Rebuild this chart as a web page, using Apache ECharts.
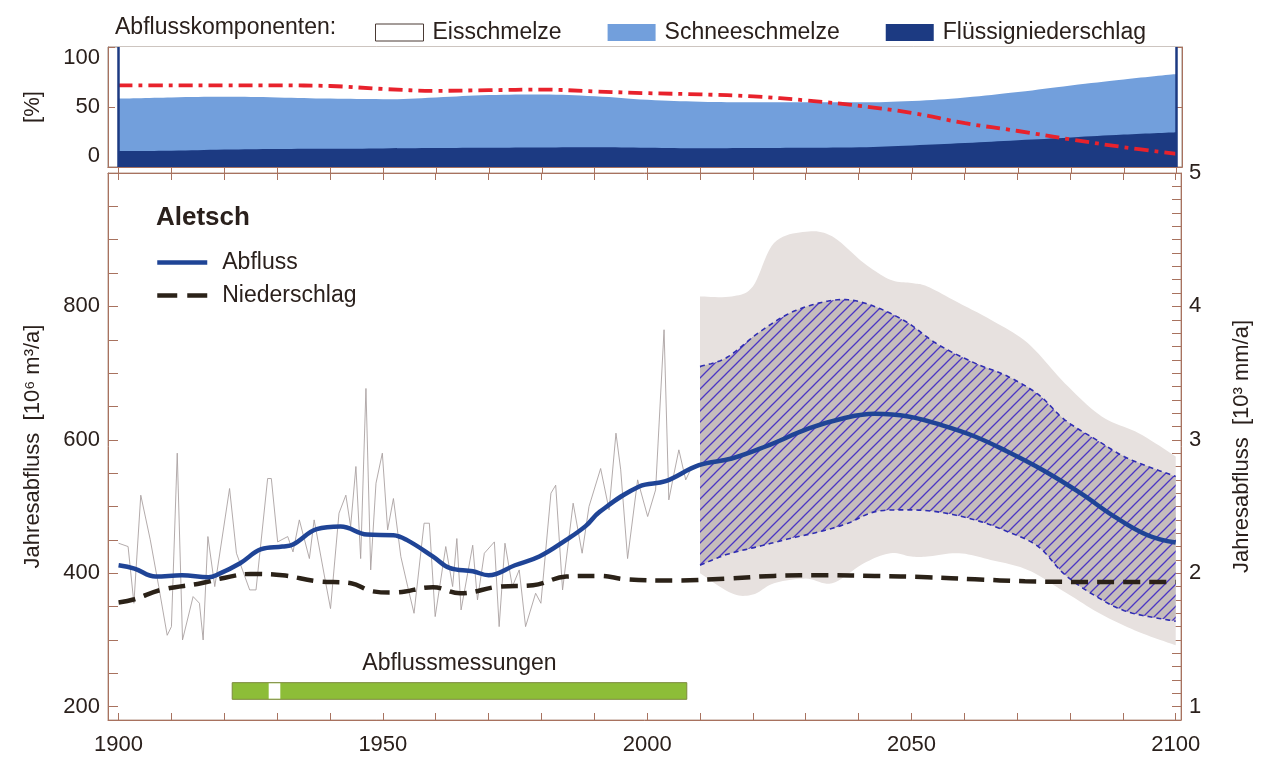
<!DOCTYPE html>
<html><head><meta charset="utf-8">
<script src="https://cdn.jsdelivr.net/npm/echarts@6.0.0/dist/echarts.min.js"></script>
<style>html,body{margin:0;padding:0;background:#fff}#c{width:1261px;height:763px}</style>
</head><body><div id="c"></div>
<script>
// ---------- DATA ----------
// top panel: runoff components (percent), every 10 years
const compYears = [1900,1910,1920,1930,1940,1950,1960,1970,1980,1990,2000,2010,2020,2030,2040,2050,2060,2070,2080,2090,2100];
const fluessig  = [13.3,13.5,14.5,15,15.2,15.5,15.8,16,16.2,16.4,16,15.6,15.8,16,16.4,18,20,22.3,24.6,27,29];
const schnee    = [43.7,44.5,44,43,41.8,41,42.2,44,44.3,42.6,40,38.8,38.2,38,37.5,37,38,40.2,43.4,46,48.5];
const eis       = [43,42,41.5,42,43,43.5,42,40,39.5,41,44,45.6,46,46,46.1,45,42,37.5,32,27,22.5];
const redLine   = [68,68,68,68,67.5,65,63.5,64,64.5,63,61.5,60.5,58.8,55.5,51,45,36.5,30,23,16.5,11];

// main panel: smoothed runoff (Abfluss)
const abflussYears = [1900,1903,1907,1912,1917,1919,1923,1927,1931,1933,1937.5,1942,1947,1952,1954.5,1959.5,1962.6,1967,1970,1975,1979.6,1984.7,1988.4,1991,1998.5,2003.5,2009.8,2016,2022.4,2030.6,2037,2043,2049.4,2055.7,2062,2068,2075,2082,2088.4,2094.7,2100];
const abflussValues = [412,407,395,397,394,399,415,436,440,443,466,470,458,457,450,425,408,403,397,412,425,450,471,492,530,538,562,572,590,617,632,639,635,622,605,583,554,520,485,457,446];

// smoothed precipitation (Niederschlag)
const niedYears  = [1900,1903,1908,1915.6,1919.4,1925,1931,1937.5,1944,1948,1952,1959.5,1964.6,1972,1978.4,1984.7,1991,1996,2005,2015,2024,2034,2043,2053,2062,2071.5,2085,2100];
const niedValues = [356,361,375,385,392,399,397,388,385,373,371,379,370,380,382,395,396,391,389,392,396,397,396,394,391,388,387,387];

// observed annual runoff (thin grey line)
const obsYears  = [1900,1901.8,1902.9,1904.2,1906,1907.6,1909.2,1910,1911.1,1912.1,1914.1,1915.3,1916,1916.9,1918.2,1921,1922.3,1924.8,1926,1928.2,1928.9,1930.1,1932,1933,1934.2,1936.1,1937,1939.2,1940.1,1941.7,1943,1943.9,1944.9,1945.8,1946.8,1947.7,1948.7,1949.9,1950.9,1952,1953.4,1954.7,1955.9,1957.8,1958.8,1959.9,1961.9,1963.2,1964,1964.8,1967,1967.9,1969.2,1971.1,1972,1973.1,1974.5,1975.8,1977,1978.9,1979.9,1981.8,1982.7,1984,1986,1987.7,1989,1991.2,1992.8,1994.1,1995,1996.3,1998.2,2000.1,2001.6,2003.2,2004.1,2005.1,2006,2007.3,2008.5];
const obsValues = [445,440,355,517,450,380,307,320,580,300,365,355,300,455,380,527,430,375,375,542,542,447,455,432,480,422,480,385,347,490,517,470,560,422,677,405,535,580,465,512,425,380,340,475,475,335,440,380,452,345,442,360,430,447,320,445,380,405,320,370,355,520,532,375,505,430,500,557,495,610,555,422,540,485,525,765,510,550,585,540,560];

// scenario range (hatched band)
const bandYears = [2010,2015,2021,2027,2033,2038,2043,2049,2055,2062,2068,2074,2079,2085,2091,2100];
const bandUpper = [710,723,760,790,806,810,800,777,743,715,696,668,630,600,572,545];
const bandLower = [412,428,440,452,463,475,492,495,492,480,463,440,398,365,342,328];

// envelope of annual scenario values (grey)
const envYears = [2010,2016,2020,2024,2030,2035,2041,2046,2050,2053,2059,2065,2072,2079,2086,2093,2100];
const envMax   = [815,815,830,895,912,905,865,840,835,830,805,780,745,685,635,610,575];
const envMin   = [400,370,368,385,392,385,415,430,425,425,430,420,405,372,338,312,292];

// measurement period
const messPeriod = [1921.5, 2007.5];
const messGap = [1928.4, 1930.6];

// tick labels
const xLabels = [1900,1950,2000,2050,2100];
const leftLabels = [200,400,600,800];
const rightLabels = [1,2,3,4,5];

// ---------- BUILD ----------
const zip = (a,b) => a.map((x,i)=>[x,b[i]]);
const schneeTop = fluessig.map((v,i)=>v+schnee[i]);
const eisTop = schneeTop.map((v,i)=>v+eis[i]);
const decades = []; for (let y=1900;y<=2100;y+=10) decades.push(y);
const leftTicks = []; for (let v=200; v<=1000; v+=50) leftTicks.push(v);
const rightTicks = []; for (let i=9;i<=50;i++) rightTicks.push(+(i/10).toFixed(1));

const FONT = "'Liberation Sans', Arial, sans-serif";
const TXT = '#2a201c';
const AX = '#a8725f';
const NAVY = '#1c3a82';
const LBLUE = '#729fdc';

function hatch() {
  const s = 11;
  const c = document.createElement('canvas');
  c.width = s; c.height = s;
  const g = c.getContext('2d');
  g.fillStyle = 'rgb(197,189,188)';
  g.fillRect(0,0,s,s);
  g.strokeStyle = '#4b36c4';
  g.lineWidth = 1.3;
  g.beginPath();
  g.moveTo(0, s); g.lineTo(s, 0);
  g.moveTo(-2, 2); g.lineTo(2, -2);
  g.moveTo(s-2, s+2); g.lineTo(s+2, s-2);
  g.stroke();
  return c;
}
const HATCH = {image: hatch(), repeat: 'repeat'};

// Catmull-Rom sampling of screen points (rendering only)
function smoothPts(P, n) {
  const out = [];
  for (let i=0;i<P.length-1;i++){
    const p0=P[i-1]||P[i], p1=P[i], p2=P[i+1], p3=P[i+2]||P[i+1];
    for (let s=0;s<n;s++){
      const t=s/n, t2=t*t, t3=t2*t;
      const f = k => 0.5*((2*p1[k])+(-p0[k]+p2[k])*t+(2*p0[k]-5*p1[k]+4*p2[k]-p3[k])*t2+(-p0[k]+3*p1[k]-3*p2[k]+p3[k])*t3);
      out.push([f(0), f(1)]);
    }
  }
  out.push(P[P.length-1]);
  return out;
}

function bandSeries(name, years, lo, hi, fill, stroke) {
  return {
    type:'custom', name, xAxisIndex:2, yAxisIndex:2, silent:true, clip:true,
    data:[[years[0], lo[0]]],
    renderItem(params, api) {
      const up = smoothPts(years.map((y,i)=>api.coord([y, hi[i]])), 10);
      const dn = smoothPts(years.map((y,i)=>api.coord([y, lo[i]])), 10);
      const poly = up.concat(dn.slice().reverse());
      const children = [{type:'polygon', shape:{points:poly}, style:{fill:fill, stroke:null}}];
      if (stroke) {
        children.push({type:'polyline', shape:{points:up}, style:{fill:null, stroke:stroke, lineWidth:1.6, lineDash:[5,4]}});
        children.push({type:'polyline', shape:{points:dn}, style:{fill:null, stroke:stroke, lineWidth:1.6, lineDash:[5,4]}});
      }
      return {type:'group', children};
    }
  };
}

const chart = echarts.init(document.getElementById('c'), null, {renderer:'canvas'});
const xBase = {type:'value', min:1898, max:2101, splitLine:{show:false},
  axisLine:{lineStyle:{color:AX}}, axisTick:{inside:true, length:7, customValues:decades, lineStyle:{color:AX}},
  axisLabel:{show:false}};

const option = {
  animation:false,
  backgroundColor:'#fff',
  textStyle:{fontFamily:FONT, color:TXT},
  title:[
    {text:'Abflusskomponenten:', left:110, top:11, textStyle:{fontFamily:FONT, fontSize:23, fontWeight:'normal', color:TXT}},
    {text:'Aletsch', left:151, top:200, textStyle:{fontFamily:FONT, fontSize:26, fontWeight:'bold', color:TXT}}
  ],
  legend:[
    {left:370, top:16, itemWidth:48, itemHeight:17, itemGap:46, icon:'rect',
     textStyle:{fontFamily:FONT, fontSize:23, color:TXT, padding:[0,0,0,4]},
     data:[
       {name:'Eisschmelze', itemStyle:{color:'#ffffff', borderColor:'#4a3a34', borderWidth:1}},
       {name:'Schneeschmelze', itemStyle:{color:LBLUE, borderColor:LBLUE}},
       {name:'Flüssigniederschlag', itemStyle:{color:NAVY, borderColor:NAVY}}
     ]},
    {left:150, top:246, orient:'vertical', itemWidth:50, itemHeight:14, itemGap:10,
     itemStyle:{opacity:0},
     textStyle:{fontFamily:FONT, fontSize:23, color:TXT, padding:[0,0,0,10]},
     data:[
       {name:'Abfluss', lineStyle:{width:4.5}},
       {name:'Niederschlag', lineStyle:{width:4.5, type:[20,10]}}
     ]}
  ],
  grid:[
    {left:108, right:79, top:47, height:120, show:true, borderColor:'#9a8a80', borderWidth:1, backgroundColor:'transparent'},
    {left:108, right:79, top:173, height:547, show:true, borderColor:'#b89a8c', borderWidth:1, backgroundColor:'transparent'}
  ],
  xAxis:[
    Object.assign({}, xBase, {gridIndex:0, position:'bottom'}),
    Object.assign({}, xBase, {gridIndex:0, position:'top'}),
    Object.assign({}, xBase, {gridIndex:1, position:'bottom',
      axisLabel:{show:true, customValues:xLabels, margin:14, fontSize:22, fontFamily:FONT, color:TXT, formatter:v=>String(v)}}),
    Object.assign({}, xBase, {gridIndex:1, position:'top'})
  ],
  yAxis:[
    {type:'value', gridIndex:0, position:'left', min:0, max:100, interval:50,
     name:'[%]', nameLocation:'middle', nameRotate:90, nameGap:64,
     nameTextStyle:{fontFamily:FONT, fontSize:22, color:TXT},
     splitLine:{show:false}, axisLine:{show:true, lineStyle:{color:AX}},
     axisTick:{inside:true, length:7, lineStyle:{color:AX}},
     axisLabel:{fontSize:22, fontFamily:FONT, color:TXT, margin:8, verticalAlignMaxLabel:'top', verticalAlignMinLabel:'bottom'}},
    {type:'value', gridIndex:0, position:'right', min:0, max:100, interval:50,
     splitLine:{show:false}, axisLine:{show:true, lineStyle:{color:AX}},
     axisTick:{inside:true, length:7, lineStyle:{color:AX}}, axisLabel:{show:false}},
    {type:'value', gridIndex:1, position:'left', min:180, max:1000,
     name:'Jahresabfluss  [10⁶ m³/a]', nameLocation:'middle', nameRotate:90, nameGap:64,
     nameTextStyle:{fontFamily:FONT, fontSize:22, color:TXT},
     splitLine:{show:false}, axisLine:{show:true, lineStyle:{color:AX}},
     axisTick:{inside:true, length:10, customValues:leftTicks, lineStyle:{color:AX}},
     axisLabel:{customValues:leftLabels, fontSize:22, fontFamily:FONT, color:TXT, margin:8}},
    {type:'value', gridIndex:1, position:'right', min:0.9, max:5,
     name:'Jahresabfluss  [10³ mm/a]', nameLocation:'middle', nameRotate:90, nameGap:50,
     nameTextStyle:{fontFamily:FONT, fontSize:22, color:TXT},
     splitLine:{show:false}, axisLine:{show:true, lineStyle:{color:AX}},
     axisTick:{inside:true, length:9, customValues:rightTicks, lineStyle:{color:AX}},
     axisLabel:{customValues:rightLabels, fontSize:22, fontFamily:FONT, color:TXT, margin:8}}
  ],
  series:[
    {name:'Eisschmelze', type:'line', xAxisIndex:0, yAxisIndex:0, smooth:0.4,
     symbol:'none', color:'#ffffff', lineStyle:{width:0}, areaStyle:{color:'#ffffff', opacity:1},
     data:zip(compYears, eisTop)},
    {name:'Schneeschmelze', type:'line', xAxisIndex:0, yAxisIndex:0, smooth:0.4,
     symbol:'none', color:LBLUE, lineStyle:{width:0}, areaStyle:{color:LBLUE, opacity:1},
     data:zip(compYears, schneeTop)},
    {name:'Flüssigniederschlag', type:'line', xAxisIndex:0, yAxisIndex:0, smooth:0.4,
     symbol:'none', color:NAVY, lineStyle:{width:0}, areaStyle:{color:NAVY, opacity:1},
     data:zip(compYears, fluessig),
     markLine:{silent:true, symbol:['none','none'], label:{show:false},
       lineStyle:{color:NAVY, width:2.5, type:'solid'}, data:[{xAxis:1900},{xAxis:2100}]}},
    {name:'Gletscher', type:'line', xAxisIndex:0, yAxisIndex:0, smooth:0.4, symbol:'none',
     lineStyle:{color:'#e8222c', width:3.8, type:[14,6,4,6]}, data:zip(compYears, redLine)},

    bandSeries('Streuung', envYears, envMin, envMax, '#e7e1df', null),
    bandSeries('Bandbreite', bandYears, bandLower, bandUpper, HATCH, '#2f2db2'),

    {name:'Jährlich', type:'line', xAxisIndex:2, yAxisIndex:2, symbol:'none',
     lineStyle:{color:'#aaa2a1', width:0.9}, data:zip(obsYears, obsValues),
     markArea:{silent:true,
       label:{show:true, position:'top', distance:7, fontFamily:FONT, fontSize:23, color:TXT},
       data:[
         [{name:'Abflussmessungen', xAxis:messPeriod[0], yAxis:211, itemStyle:{color:'#8dbd38', borderColor:'#7c8a3c', borderWidth:1}},
          {xAxis:messPeriod[1], yAxis:236}],
         [{name:'', xAxis:messGap[0], yAxis:212, itemStyle:{color:'#ffffff', borderWidth:0}, label:{show:false}},
          {xAxis:messGap[1], yAxis:235}]
       ]}},
    {name:'Niederschlag', type:'line', xAxisIndex:2, yAxisIndex:2, smooth:0.4, symbol:'none',
     color:'#2b2218', lineStyle:{color:'#2b2218', width:4.5, type:[17,9]}, data:zip(niedYears, niedValues)},
    {name:'Abfluss', type:'line', xAxisIndex:2, yAxisIndex:2, smooth:0.4, symbol:'none',
     color:'#1f4496', lineStyle:{color:'#1f4496', width:4.5}, data:zip(abflussYears, abflussValues)}
  ]
};
chart.setOption(option);
</script></body></html>
